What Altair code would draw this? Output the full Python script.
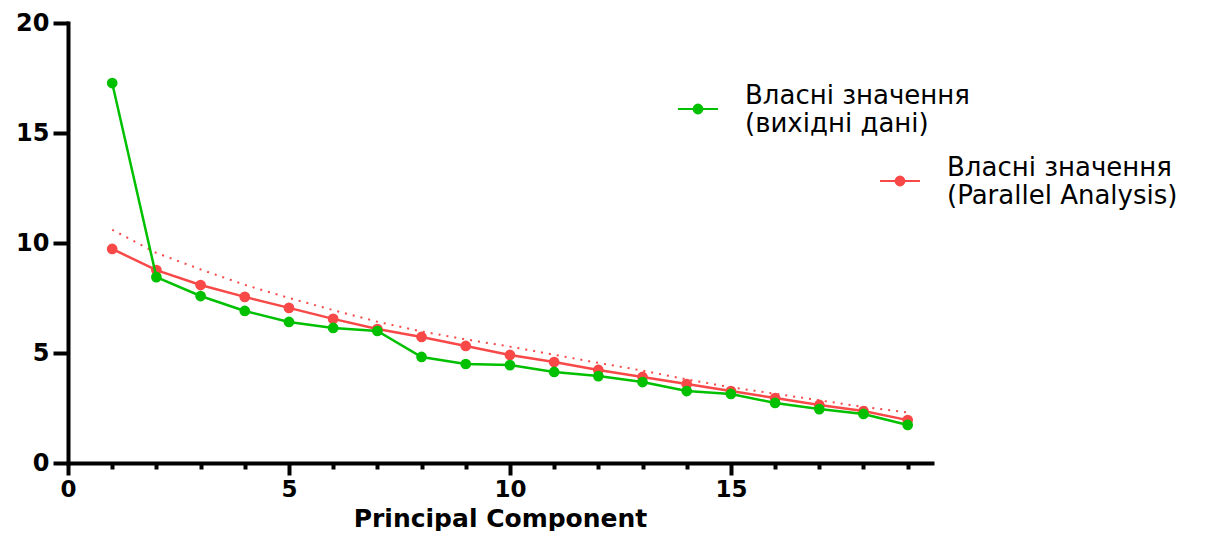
import altair as alt
import pandas as pd

components = list(range(1, 20))
eig_observed = [17.27, 8.45, 7.59, 6.91, 6.41, 6.14, 6.0, 4.82, 4.5, 4.45,
                4.14, 3.95, 3.68, 3.27, 3.14, 2.73, 2.45, 2.23, 1.73]
eig_parallel = [9.73, 8.77, 8.09, 7.55, 7.05, 6.55, 6.09, 5.73, 5.32, 4.91,
                4.59, 4.23, 3.91, 3.59, 3.27, 2.95, 2.64, 2.36, 1.95]
eig_trend = [10.6, 9.55, 8.8, 8.1, 7.5, 6.95, 6.42, 5.98, 5.62, 5.29,
             4.92, 4.55, 4.2, 3.8, 3.44, 3.15, 2.85, 2.55, 2.3]
x_ticks = list(range(0, 20))
y_ticks = [0, 5, 10, 15, 20]
label_obs = "Власні значення\n(вихідні дані)"
label_pa = "Власні значення\n(Parallel Analysis)"
green = "#00c000"
red = "#f84848"

df = pd.DataFrame({
    "pc": components,
    "obs": eig_observed,
    "pa": eig_parallel,
    "trend": eig_trend,
    "s_obs": label_obs,
    "s_pa": label_pa,
})

TICK_FONT = "DejaVu Sans"
sym_path = "M-1,0L1,0M-0.22,0A0.22,0.22,0,1,1,0.22,0A0.22,0.22,0,1,1,-0.22,0Z"

x_enc = alt.X(
    "pc:Q",
    scale=alt.Scale(domain=[0, 19.55], nice=False, zero=False),
    axis=alt.Axis(
        values=x_ticks,
        labelExpr="datum.value % 5 === 0 ? datum.label : ''",
        tickSize={"condition": {"test": "datum.value % 5 === 0", "value": 12}, "value": 6},
        tickWidth=4, tickColor="black",
        domainWidth=4, domainColor="black", domainCap="square",
        labelFont=TICK_FONT, labelFontWeight="bold", labelFontSize=23, labelColor="black",
        labelPadding=3, labelFlush=False, labelOverlap=False,
        grid=False,
        title="Principal Component",
        titleFont=TICK_FONT, titleFontWeight="bold", titleFontSize=25, titleColor="black",
        titleBaseline="alphabetic", titleY=63,
    ),
)

y_axis = alt.Axis(
    values=y_ticks, tickSize=15, tickWidth=4, tickColor="black",
    domainWidth=4, domainColor="black", domainCap="square",
    labelFont=TICK_FONT, labelFontWeight="bold", labelFontSize=24, labelColor="black",
    labelPadding=4, grid=False, title=None,
)


def make_legend(lx, ly):
    return alt.Legend(
        orient="none", legendX=lx, legendY=ly, title=None,
        symbolType=sym_path, symbolSize=1600, symbolStrokeWidth=2,
        labelExpr="split(datum.label, '\\n')",
        labelFont="DejaVu Sans", labelFontSize=26, labelColor="black",
        labelBaseline="bottom",
        labelLimit=0, labelOffset=26, padding=0,
    )


obs_color = alt.Color("s_obs:N", scale=alt.Scale(domain=[label_obs], range=[green]),
                      legend=make_legend(609, 65))
pa_color = alt.Color("s_pa:N", scale=alt.Scale(domain=[label_pa], range=[red]),
                     legend=make_legend(811, 137))

base = alt.Chart(df)

trend = base.mark_line(color=red, strokeWidth=2, strokeDash=[2, 6]).encode(
    x=x_enc, y=alt.Y("trend:Q", scale=alt.Scale(domain=[0, 20], nice=False), axis=y_axis)
)

pa_layer = alt.layer(
    base.mark_line(strokeWidth=2.5).encode(x=x_enc, y=alt.Y("pa:Q", axis=y_axis), color=pa_color),
    base.mark_point(filled=True, size=115, opacity=1).encode(x=x_enc, y=alt.Y("pa:Q"), color=pa_color),
)
obs_layer = alt.layer(
    base.mark_line(strokeWidth=2.5).encode(x=x_enc, y=alt.Y("obs:Q", axis=y_axis), color=obs_color),
    base.mark_point(filled=True, size=115, opacity=1).encode(x=x_enc, y=alt.Y("obs:Q"), color=obs_color),
)

chart = alt.layer(trend, pa_layer, obs_layer).resolve_scale(color="independent").properties(
    width=864, height=440,
    autosize=alt.AutoSizeParams(type="none"),
    padding={"left": 60, "top": 15, "right": 272, "bottom": 68},
).configure_view(stroke=None)

chart.save("out.html", embed_options={"renderer": "svg", "actions": False})
